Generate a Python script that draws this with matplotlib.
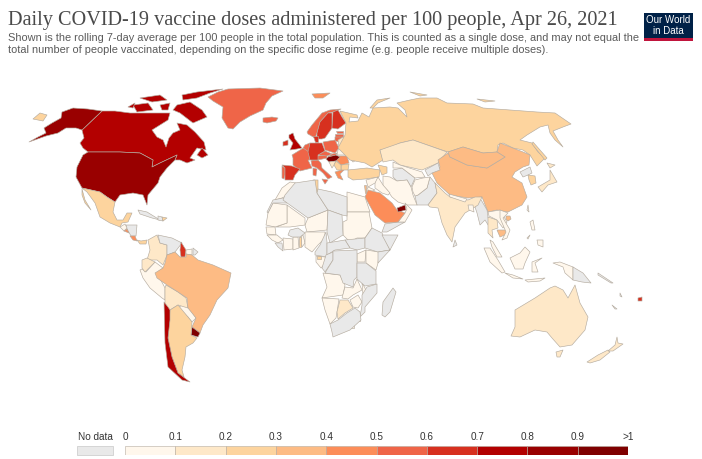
import matplotlib
matplotlib.use('Agg')
import matplotlib.pyplot as plt
from matplotlib.colors import BoundaryNorm, ListedColormap
from matplotlib.patches import Rectangle

# Legend
bin_edges = [0, 0.1, 0.2, 0.3, 0.4, 0.5, 0.6, 0.7, 0.8, 0.9, 1.0]
bin_labels = ['0', '0.1', '0.2', '0.3', '0.4', '0.5', '0.6', '0.7', '0.8', '0.9', '>1']
bin_colors = ['#fff7ec', '#fee8c8', '#fdd49e', '#fdbb84', '#fc8d59',
              '#ef6548', '#d7301f', '#b30000', '#990000', '#7f0000']
no_data_color = '#e9e9e9'

# Country outlines in map units
# North America
ALASKA = [(29,142),(38,137),(46,133),(44,128),(52,123),(61,118),(62,112),(73,108),(88,109),(102,111),(82,130),(76,128),(66,128),(58,133),(46,136)]
CANADA = [(102,111),(115,111),(130,113),(150,113),(170,113),(168,120),(160,125),(152,130),(157,137),(163,140),(166,147),(169,138),(173,133),(180,130),(177,123),(187,125),(195,132),(204,142),(206,150),(197,148),(190,158),(195,160),(187,163),(180,160),(175,160),(177,155),(160,163),(152,167),(153,160),(140,153),(120,152),(88,152),(83,148),(80,143),(84,138),(82,130)]
BAFFIN = [(177,105),(190,102),(202,110),(207,117),(193,123),(180,113),(173,110)]
ELLESMERE = [(182,95),(197,92),(223,89),(210,93),(197,98),(183,100)]
VICTORIA = [(133,105),(148,103),(153,110),(137,112)]
BANKS = [(128,107),(135,103),(133,108)]
PARRY = [(140,98),(160,95),(167,100),(152,102)]
SOMERSET = [(160,105),(170,103),(168,110),(162,110)]
NEWFOUNDLAND = [(197,155),(202,148),(208,155),(202,158)]
USA = [(88,152),(120,152),(140,153),(153,160),(152,167),(160,163),(177,155),(175,160),(167,168),(160,177),(158,183),(148,195),(147,205),(143,195),(133,193),(120,195),(115,202),(107,197),(100,192),(82,188),(76,177),(77,167),(83,155)]
MEXICO = [(82,188),(100,192),(107,197),(115,202),(113,212),(117,220),(123,220),(127,213),(132,213),(128,222),(122,223),(120,227),(110,223),(100,217),(95,203),(87,192)]
BAJA = [(82,189),(85,200),(91,210),(85,203),(82,195)]
GREENLAND = [(208,97),(218,92),(228,89),(260,88),(283,91),(272,96),(266,103),(263,110),(250,116),(240,122),(233,129),(228,128),(222,118),(223,107),(213,101)]
CUBA = [(138,210),(147,212),(160,220),(152,218),(140,214)]
HAITI = [(158,216),(162,217),(163,221),(158,220)]
DOMINICAN = [(162,217),(167,218),(163,221)]
GUATEMALA = [(120,227),(125,224),(127,228),(124,231)]
HONDURAS = [(126,225),(137,225),(136,236),(131,236),(127,229)]
EL_SALVADOR = [(124,231),(127,229),(129,233)]
COSTA_RICA = [(130,236),(135,236),(137,241),(133,240)]
PANAMA = [(137,240),(141,241),(147,240),(146,244),(140,244)]

# South America
COLOMBIA = [(148,240),(157,235),(160,243),(167,245),(167,255),(163,265),(157,260),(147,260),(150,250)]
VENEZUELA = [(158,235),(172,238),(182,243),(175,252),(167,255),(167,245),(160,243)]
GUYANA = [(181,242),(186,250),(185,257),(181,257),(180,250)]
SURINAME = [(186,250),(192,249),(192,255),(186,254)]
FRENCH_GUIANA = [(193,248),(198,252),(195,255),(193,255)]
ECUADOR = [(142,260),(147,258),(155,262),(145,272),(142,268)]
PERU = [(142,269),(146,272),(155,262),(163,268),(157,273),(165,288),(165,300),(162,298),(150,288),(143,278),(140,270)]
BRAZIL = [(167,255),(175,252),(180,257),(186,257),(186,254),(192,255),(198,260),(213,265),(231,273),(228,288),(217,300),(210,315),(203,325),(200,333),(192,327),(196,318),(188,308),(187,298),(178,292),(167,285),(157,278),(155,273),(163,268),(165,263)]
BOLIVIA = [(166,285),(178,292),(186,298),(188,308),(178,305),(170,310),(165,308),(165,288)]
PARAGUAY = [(179,307),(186,303),(189,308),(196,318),(192,322),(188,317),(180,310)]
URUGUAY = [(192,327),(200,333),(198,337),(191,335)]
ARGENTINA = [(170,310),(178,305),(188,317),(192,322),(191,335),(197,338),(193,343),(186,347),(185,357),(182,370),(184,377),(178,373),(172,357),(168,338)]
CHILE = [(164,302),(168,307),(170,310),(170,320),(168,338),(172,357),(178,373),(190,382),(182,380),(168,367),(165,343)]

# Europe
ICELAND = [(263,118),(272,117),(278,118),(276,121),(267,123),(263,122)]
SVALBARD = [(312,94),(330,93),(323,98),(315,98)]
NORWAY = [(307,132),(312,125),(322,113),(330,110),(341,109),(333,112),(328,113),(320,122),(317,133),(315,138),(308,134)]
SWEDEN = [(317,133),(320,122),(328,113),(332,113),(332,128),(325,138),(322,139),(317,139)]
FINLAND = [(333,112),(338,110),(342,117),(346,123),(338,129),(332,128)]
ESTONIA = [(336,131),(343,131),(343,133),(337,133)]
LATVIA = [(335,134),(343,134),(343,137),(335,137)]
LITHUANIA = [(335,137),(343,137),(340,142),(335,141)]
BELARUS = [(338,140),(343,137),(350,145),(339,148)]
UKRAINE = [(339,148),(350,145),(365,155),(353,162),(347,155),(337,155),(338,150)]
POLAND = [(323,142),(335,140),(339,148),(335,153),(325,150)]
GERMANY = [(310,143),(322,143),(325,151),(318,155),(318,160),(310,160),(308,152)]
DENMARK = [(313,136),(318,136),(318,142),(315,142)]
BENELUX = [(305,145),(310,143),(309,152),(303,148)]
FRANCE = [(292,155),(305,147),(309,152),(310,160),(308,160),(312,168),(300,171),(293,165),(293,158)]
SWITZERLAND = [(310,157),(317,158),(317,161),(312,161)]
AUSTRIA = [(317,156),(327,155),(327,158),(318,160)]
CZECHIA = [(318,155),(325,151),(332,154),(327,156)]
SLOVAKIA = [(332,154),(337,153),(336,155),(328,157)]
HUNGARY = [(328,157),(336,155),(340,157),(336,161),(329,162),(326,159)]
ITALY = [(311,161),(318,160),(321,163),(322,168),(332,177),(328,179),(323,173),(317,168),(312,166)]
SICILY = [(322,179),(328,180),(325,184)]
SARDINIA = [(313,168),(317,169),(316,176),(313,175)]
SPAIN = [(282,165),(292,166),(300,169),(295,175),(293,180),(285,180),(285,175),(285,168)]
PORTUGAL = [(282,166),(285,168),(285,175),(284,179),(282,178)]
BRITAIN = [(289,135),(293,133),(295,139),(302,148),(297,149),(290,150),(293,143),(289,138)]
IRELAND = [(283,142),(288,140),(288,145),(283,146)]
ROMANIA = [(337,156),(347,156),(349,163),(341,165),(336,160)]
BULGARIA = [(341,165),(349,164),(348,170),(341,170)]
SERBIA = [(336,161),(341,165),(341,170),(337,170),(334,165)]
CROATIA = [(329,162),(336,161),(334,165),(332,168)]
GREECE = [(335,172),(345,169),(340,174),(343,180),(338,178)]

# Russia and Asia
RUSSIA = [(346,123),(340,111),(357,115),(358,118),(350,117),(349,122),(358,121),(362,113),(369,117),(373,108),(390,107),(398,108),(407,117),(405,110),(397,103),(410,100),(420,98),(437,98),(447,103),(473,104),(483,108),(510,110),(537,112),(555,113),(571,124),(563,127),(553,131),(558,140),(563,147),(555,140),(550,133),(548,125),(540,127),(527,135),(520,140),(532,143),(538,152),(545,158),(537,166),(530,155),(523,150),(513,148),(503,143),(498,145),(497,152),(483,153),(463,147),(448,152),(433,147),(413,140),(400,143),(390,148),(380,150),(383,160),(372,167),(365,163),(350,160),(342,152),(338,148),(345,135)]
CHUKOTKA = [(33,119),(40,113),(47,115),(43,121)]
NOVAYA_ZEMLYA = [(370,108),(377,100),(390,98),(378,103),(373,108)]
SEVERNAYA = [(410,92),(427,95),(420,96)]
NEW_SIBERIA = [(477,99),(495,101),(485,102)]
SAKHALIN = [(533,142),(547,158),(545,160),(532,144)]
KAZAKHSTAN = [(380,150),(400,143),(413,140),(433,147),(447,152),(438,163),(422,170),(400,165),(393,160),(383,162)]
MONGOLIA = [(448,152),(463,147),(483,153),(497,152),(505,157),(487,168),(467,165),(450,157)]
CHINA = [(448,153),(450,157),(467,165),(487,168),(505,157),(497,152),(500,143),(523,152),(530,155),(529,165),(523,167),(515,172),(512,177),(522,183),(527,197),(522,205),(508,212),(497,210),(488,212),(482,197),(468,198),(450,195),(437,183),(432,173),(440,167),(438,160)]
NORTH_KOREA = [(520,172),(530,167),(532,173),(528,175),(523,177)]
SOUTH_KOREA = [(528,175),(535,176),(536,183),(531,185),(529,180)]
HONSHU = [(538,187),(550,180),(550,170),(557,182),(548,185),(542,192)]
HOKKAIDO = [(547,163),(555,165),(550,168)]
TAIWAN = [(528,205),(529,212),(527,210)]
HAINAN = [(506,216),(510,216),(511,219),(508,221),(506,219)]
TURKEY = [(348,170),(367,168),(380,170),(379,177),(365,179),(353,180),(348,177)]
CAUCASUS = [(378,165),(387,167),(387,173),(382,175),(380,170)]
IRAN = [(383,176),(390,177),(397,181),(407,180),(411,187),(413,195),(417,205),(407,205),(398,202),(392,197),(387,190),(383,186)]
IRAQ = [(375,180),(378,177),(383,185),(390,193),(388,195),(382,193),(375,188)]
SYRIA = [(366,180),(378,177),(375,183),(368,187)]
JORDAN = [(368,187),(375,190),(368,193),(366,192)]
ISRAEL = [(364,185),(366,185),(366,193),(365,193)]
SAUDI = [(368,190),(380,193),(392,203),(397,210),(405,213),(398,222),(385,223),(375,215),(365,197)]
UAE = [(397,208),(405,205),(406,210),(398,212)]
OMAN = [(405,203),(412,210),(405,222),(398,222),(405,213),(407,209)]
YEMEN = [(382,232),(385,224),(398,222),(405,222),(387,232)]
TURKMENISTAN = [(393,170),(402,168),(415,178),(411,187),(407,180),(397,181),(393,177)]
UZBEKISTAN = [(393,162),(400,165),(422,172),(425,177),(415,178),(402,168),(393,168)]
KYRGYZSTAN = [(425,170),(438,163),(440,170),(432,173),(428,176)]
AFGHANISTAN = [(412,187),(415,180),(423,178),(430,177),(427,188),(418,195),(415,196),(413,192)]
PAKISTAN = [(430,177),(435,183),(437,193),(428,205),(417,205),(415,196),(418,195),(427,188)]
INDIA = [(435,183),(445,193),(450,197),(468,200),(475,197),(482,197),(478,205),(475,207),(465,213),(455,227),(452,242),(447,235),(442,223),(438,208),(430,207),(428,205),(437,193)]
NEPAL = [(449,194),(467,199),(465,202),(450,197)]
BANGLADESH = [(468,205),(473,205),(474,212),(469,210)]
SRI_LANKA = [(455,240),(457,245),(453,247)]
MYANMAR = [(480,198),(487,210),(488,217),(490,228),(485,220),(480,225),(477,213),(475,207)]
THAILAND = [(488,217),(497,220),(498,228),(492,230),(493,238),(488,233),(488,223)]
LAOS = [(488,212),(500,210),(507,222),(503,228),(497,220),(489,216)]
VIETNAM = [(500,210),(508,213),(503,218),(510,230),(507,238),(502,240),(506,232),(500,218)]
CAMBODIA = [(497,230),(507,230),(507,234),(500,237)]
LUZON = [(530,222),(533,220),(535,230),(532,230)]
MINDANAO = [(537,240),(543,240),(543,247),(538,245)]
PALAWAN = [(527,238),(530,235),(528,239)]

# Africa
MOROCCO = [(282,188),(290,182),(296,183),(292,193),(282,198),(275,200)]
WESTERN_SAHARA = [(267,212),(273,200),(283,198),(287,203),(273,203),(268,213)]
ALGERIA = [(295,183),(315,180),(317,193),(328,210),(308,218),(283,200),(285,195)]
TUNISIA = [(313,180),(318,180),(318,193),(316,193),(315,187)]
LIBYA = [(318,189),(332,192),(347,197),(347,216),(342,215),(328,210),(317,193)]
EGYPT = [(347,192),(365,197),(370,212),(347,212)]
SUDAN = [(347,212),(369,212),(372,228),(365,238),(357,238),(350,242),(343,235),(343,222),(347,220)]
SOUTH_SUDAN = [(345,240),(365,238),(365,248),(357,250),(350,248)]
CHAD = [(328,210),(342,215),(343,235),(330,243),(327,232)]
NIGER = [(308,218),(328,210),(327,230),(307,232),(305,225)]
MALI = [(287,205),(305,218),(305,225),(290,227),(282,227),(276,227),(287,223)]
MAURITANIA = [(273,203),(287,205),(287,223),(275,227),(266,225),(268,213)]
SENEGAL = [(266,227),(275,227),(276,235),(267,234)]
GUINEA = [(267,235),(277,235),(283,240),(278,243),(272,240)]
LIBERIA = [(275,243),(282,243),(283,251),(278,247)]
IVORY_COAST = [(283,238),(293,239),(293,249),(284,250)]
BURKINA = [(290,230),(298,228),(305,233),(300,237),(292,237),(288,235)]
GHANA = [(293,237),(298,237),(299,248),(293,250)]
TOGO = [(299,237),(301,237),(301,247),(299,247)]
BENIN = [(301,237),(303,235),(305,243),(302,247)]
NIGERIA = [(305,232),(325,232),(325,238),(318,245),(312,252),(305,247)]
CAMEROON = [(326,232),(327,242),(327,257),(315,255),(315,252),(320,245)]
CAR = [(327,243),(345,240),(350,248),(335,250),(327,255)]
GABON = [(316,256),(325,257),(327,262),(321,268),(316,262)]
EQ_GUINEA = [(317,256),(321,256),(321,259),(317,259)]
CONGO = [(326,255),(333,252),(333,260),(325,272),(322,268)]
DRC = [(333,251),(357,250),(357,267),(357,277),(354,280),(353,287),(343,283),(340,275),(325,273),(333,260)]
UGANDA = [(357,254),(366,250),(365,262),(357,262)]
KENYA = [(366,250),(379,252),(378,263),(376,270),(366,263)]
ETHIOPIA = [(372,228),(382,233),(390,250),(378,252),(365,248),(365,238)]
SOMALIA = [(382,235),(398,235),(390,250),(378,263),(378,252),(390,250)]
TANZANIA = [(357,263),(366,263),(376,271),(376,284),(365,286),(357,279)]
ANGOLA = [(323,273),(340,275),(345,285),(343,295),(322,298),(327,287)]
ZAMBIA = [(345,287),(353,288),(357,279),(362,290),(353,295),(348,299),(342,298)]
MALAWI = [(362,283),(365,288),(367,297),(363,295)]
MOZAMBIQUE = [(367,287),(377,284),(377,293),(365,307),(365,312),(360,317),(362,305),(362,295)]
ZIMBABWE = [(350,300),(358,295),(362,302),(358,308),(353,307)]
BOTSWANA = [(340,300),(348,300),(353,308),(345,313),(338,319),(337,312)]
NAMIBIA = [(322,298),(339,299),(337,312),(336,318),(330,324),(325,310)]
SOUTH_AFRICA = [(330,324),(338,320),(347,313),(355,308),(360,312),(361,320),(350,330),(333,337),(332,332)]
ESWATINI = [(356,318),(360,318),(360,321),(356,321)]
LESOTHO = [(350,324),(354,324),(354,328),(350,328)]
MADAGASCAR = [(382,315),(383,302),(393,288),(396,292),(390,312),(385,317)]

# Indonesia and Oceania
SUMATRA = [(484,248),(490,248),(498,260),(505,272),(502,273),(490,262)]
MALAYA = [(490,240),(493,242),(502,257),(497,257),(492,247)]
JAVA = [(505,273),(513,275),(523,279),(513,278)]
BORNEO = [(510,258),(520,253),(525,247),(530,252),(525,263),(523,269),(515,269)]
SULAWESI = [(532,262),(542,258),(535,263),(538,272),(532,272)]
LESSER_SUNDA = [(525,280),(545,278),(540,281),(528,282)]
WEST_PAPUA = [(553,263),(560,262),(573,267),(573,280),(565,273),(563,267)]
PNG = [(573,267),(583,273),(591,283),(582,282),(573,280)]
AUSTRALIA = [(511,336),(515,327),(515,310),(535,298),(550,288),(555,286),(563,290),(568,298),(575,285),(580,303),(588,317),(585,330),(572,345),(560,347),(552,338),(547,332),(535,330),(520,337)]
TASMANIA = [(556,352),(563,350),(560,357),(557,357)]
NZ_SOUTH = [(587,362),(598,355),(608,350),(610,352),(600,360),(590,363)]
NZ_NORTH = [(617,337),(618,343),(623,344),(613,351),(608,351),(615,345)]
FIJI = [(638,298),(642,297),(642,301),(638,301)]
SOLOMON = [(598,273),(613,283),(611,283),(598,275)]
NEW_CALEDONIA = [(612,305),(617,309),(615,309)]
VANUATU = [(620,293),(622,297),(620,296)]

# Doses per 100 people, None where there is no data
canada_rate = 0.75
usa_rate = 0.85
russia_rate = 0.25
china_rate = 0.35
brazil_rate = 0.35

shapes = [
    (canada_rate, [CANADA, BAFFIN, ELLESMERE, VICTORIA, BANKS, PARRY, SOMERSET, NEWFOUNDLAND]),
    (usa_rate, [ALASKA, USA]), (0.25, [MEXICO, BAJA]), (0.55, [GREENLAND]),
    (None, [CUBA, HAITI, HONDURAS]), (0.25, [DOMINICAN]), (0.05, [GUATEMALA]),
    (0.45, [EL_SALVADOR, COSTA_RICA]), (0.25, [PANAMA]),
    (0.15, [COLOMBIA]), (None, [VENEZUELA, FRENCH_GUIANA]), (0.65, [GUYANA]), (0.05, [SURINAME, PERU, PARAGUAY]),
    (0.15, [ECUADOR, BOLIVIA]), (brazil_rate, [BRAZIL]), (0.95, [URUGUAY]), (0.25, [ARGENTINA]), (0.75, [CHILE]),
    (0.55, [ICELAND, NORWAY, FRANCE, LATVIA, ESTONIA, LITHUANIA, POLAND, BENELUX, AUSTRIA, SWITZERLAND, ITALY, SICILY, SARDINIA, CZECHIA, SLOVAKIA, PORTUGAL]),
    (0.45, [SVALBARD, ROMANIA, GREECE]), (0.65, [SWEDEN, FINLAND, GERMANY, DENMARK, SPAIN, IRELAND]),
    (0.75, [BRITAIN]), (0.95, [HUNGARY]), (0.15, [BELARUS, CROATIA]), (0.05, [UKRAINE]), (0.25, [BULGARIA, SERBIA]),
    (russia_rate, [RUSSIA, CHUKOTKA, NOVAYA_ZEMLYA, SEVERNAYA, NEW_SIBERIA, SAKHALIN]),
    (0.15, [KAZAKHSTAN]), (china_rate, [CHINA, MONGOLIA, HAINAN, CAMBODIA]),
    (None, [NORTH_KOREA, TURKMENISTAN, KYRGYZSTAN, PAKISTAN, SRI_LANKA, MYANMAR, YEMEN]),
    (0.25, [SOUTH_KOREA, TURKEY, CAUCASUS]), (0.15, [HONSHU, HOKKAIDO, INDIA, THAILAND]),
    (0.05, [TAIWAN, IRAN, IRAQ, SYRIA, JORDAN, OMAN, UZBEKISTAN, AFGHANISTAN, NEPAL, BANGLADESH, LAOS, VIETNAM, LUZON, MINDANAO, PALAWAN]),
    (0.45, [SAUDI]), (0.95, [UAE]), (0.35, [ISRAEL]),
    (0.05, [MOROCCO, EGYPT, SUDAN, NIGER, MALI, MAURITANIA, SENEGAL, GUINEA, IVORY_COAST, GHANA, BENIN, NIGERIA, GABON, UGANDA, KENYA, ANGOLA, ZAMBIA, MALAWI, ZIMBABWE, NAMIBIA, ESWATINI, LESOTHO]),
    (0.25, [TUNISIA, TOGO, EQ_GUINEA]), (0.15, [BOTSWANA]),
    (None, [WESTERN_SAHARA, ALGERIA, LIBYA, SOUTH_SUDAN, CHAD, LIBERIA, BURKINA, CAMEROON, CAR, CONGO, DRC, ETHIOPIA, SOMALIA, TANZANIA, MOZAMBIQUE, SOUTH_AFRICA, MADAGASCAR]),
    (0.05, [SUMATRA, MALAYA, JAVA, BORNEO, SULAWESI, LESSER_SUNDA, WEST_PAPUA]),
    (None, [PNG, SOLOMON, NEW_CALEDONIA, VANUATU]),
    (0.15, [AUSTRALIA, TASMANIA, NZ_SOUTH, NZ_NORTH]), (0.65, [FIJI]),
]

title = 'Daily COVID-19 vaccine doses administered per 100 people, Apr 26, 2021'
subtitle = ('Shown is the rolling 7-day average per 100 people in the total population. This is counted as a single dose, and may not equal the\n'
            'total number of people vaccinated, depending on the specific dose regime (e.g. people receive multiple doses).')

cmap = ListedColormap(bin_colors)
norm = BoundaryNorm(bin_edges, cmap.N)

fig = plt.figure(figsize=(7.02, 4.59), dpi=100)
ax = fig.add_axes([0, 0, 1, 1])
ax.set_xlim(0, 702)
ax.set_ylim(459, 0)
ax.axis('off')

for rate, outlines in shapes:
    color = no_data_color if rate is None else cmap(norm(rate))
    for outline in outlines:
        ax.fill(*zip(*outline), facecolor=color, edgecolor='#b5aca0', linewidth=0.45, joinstyle='round')

ax.text(8, 21, title, family='Liberation Serif', fontsize=14.6, color='#4a4a4a', va='center')
ax.text(8, 44, subtitle, family='Liberation Sans', fontsize=7.9, color='#5b5b5b', va='center', linespacing=1.15)

# logo
ax.add_patch(Rectangle((644, 13), 49, 25, facecolor='#002147', edgecolor='none'))
ax.add_patch(Rectangle((644, 38), 49, 2.5, facecolor='#c0143c', edgecolor='none'))
ax.text(668.5, 25.5, 'Our World\nin Data', family='Liberation Sans', fontsize=7, color='white', ha='center', va='center', linespacing=1.05)

# no data key
ax.add_patch(Rectangle((77, 446), 36, 9, facecolor=no_data_color, edgecolor='#c8c8c8', linewidth=0.5))
ax.text(95, 437.5, 'No data', family='Liberation Sans', fontsize=7.2, color='#333333', ha='center', va='center')

# colour key
leg = fig.add_axes([125 / 702, 1 - 455 / 459, 503 / 702, 9 / 459])
leg.bar(bin_edges[:-1], 1, width=0.1, align='edge', color=bin_colors, edgecolor='#b5aca0', linewidth=0.4)
leg.set_xlim(0, 1)
leg.set_ylim(0, 1)
leg.set_yticks([])
leg.set_xticks(bin_edges)
leg.set_xticklabels(bin_labels, family='Liberation Sans', fontsize=7.2, color='#333333')
leg.xaxis.tick_top()
leg.tick_params(axis='x', length=0, pad=3)
for side in leg.spines.values():
    side.set_visible(False)

fig.savefig('out.png', dpi=100)
